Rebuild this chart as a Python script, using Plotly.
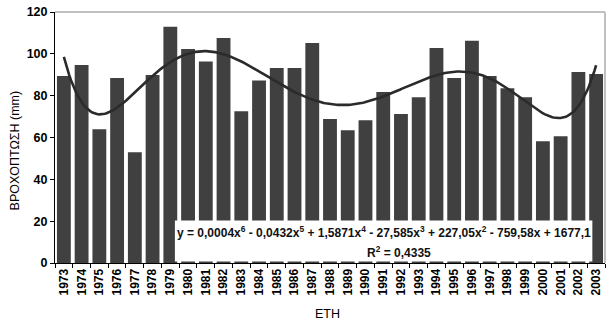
import numpy as np
import plotly.graph_objects as go

years = list(range(1973, 2004))
rain = [89.4, 94.7, 64.0, 88.4, 53.0, 89.9, 112.9, 102.3, 96.3, 107.6,
        72.6, 87.2, 93.2, 93.2, 105.2, 68.8, 63.5, 68.3, 81.7, 71.2,
        79.3, 102.8, 88.4, 106.2, 89.4, 83.6, 79.3, 58.2, 60.6, 91.3, 90.4]
y_ticks = [0, 20, 40, 60, 80, 100, 120]
eq_text = ("y = 0,0004x<sup>6</sup> - 0,0432x<sup>5</sup> + 1,5871x<sup>4</sup> - 27,585x<sup>3</sup>"
           " + 227,05x<sup>2</sup> - 759,58x + 1677,1")
r2_text = "R<sup>2</sup> = 0,4335"

# 6th order polynomial trendline (fitted on index 1..n)
idx = np.arange(1, len(years) + 1)
coef = np.polyfit(idx, rain, 6)
fine_idx = np.linspace(1, len(years), 300)
fine_years = fine_idx + years[0] - 1
trend = np.polyval(coef, fine_idx)

FONT = "Liberation Sans, Arial, sans-serif"

fig = go.Figure()
fig.add_trace(go.Bar(x=years, y=rain, marker=dict(color="#404040", line=dict(width=0)),
                     width=0.78, hoverinfo="x+y"))
fig.add_trace(go.Scatter(x=fine_years, y=trend, mode="lines",
                         line=dict(color="#2b2b2b", width=2.6)))

boundaries = [y - 0.5 for y in years] + [years[-1] + 0.5]

fig.update_layout(
    width=611, height=323,
    margin=dict(l=55, r=6, t=12, b=60),
    plot_bgcolor="white", paper_bgcolor="white",
    showlegend=False,
    font=dict(family=FONT, color="black"),
    xaxis=dict(range=[years[0] - 0.5, years[-1] + 0.5],
               tickvals=years, ticktext=[str(y) for y in years],
               tickangle=-90, ticks="", showgrid=False, zeroline=False,
               showline=True, linecolor="black", linewidth=1,
               tickfont=dict(size=12, family=FONT, weight="bold"),
               minor=dict(tickvals=boundaries, ticks="outside", ticklen=4,
                          tickcolor="black", showgrid=False)),
    yaxis=dict(range=[0, 120], tickvals=y_ticks,
               ticktext=[str(v) for v in y_ticks],
               ticks="outside", ticklen=4, tickcolor="black",
               showgrid=False, zeroline=False,
               showline=True, linecolor="black", linewidth=1,
               tickfont=dict(size=12.5, family=FONT, weight="bold")),
)

# gray plot border top/right
fig.add_shape(type="line", xref="paper", yref="paper", x0=0, x1=1, y0=1, y1=1,
              line=dict(color="#c0c0c0", width=2))
fig.add_shape(type="line", xref="paper", yref="paper", x0=1, x1=1, y0=0, y1=1,
              line=dict(color="#c0c0c0", width=2))

# equation box
fig.add_shape(type="rect", xref="paper", yref="y", x0=0.218, x1=0.977, y0=0.7, y1=20.3,
              fillcolor="white", line=dict(width=0), layer="above")
fig.add_annotation(xref="paper", yref="y", x=0.2185, y=15.0, xanchor="left", yanchor="middle",
                   text=eq_text, showarrow=False,
                   font=dict(size=12, family=FONT, color="#111", weight="bold"))
fig.add_annotation(xref="paper", yref="y", x=0.626, y=5.5, xanchor="center", yanchor="middle",
                   text=r2_text, showarrow=False,
                   font=dict(size=12, family=FONT, color="#111", weight="bold"))

# axis titles
fig.add_annotation(xref="paper", yref="paper", x=-0.072, y=0.45, xanchor="center", yanchor="middle",
                   text="ΒΡΟΧΟΠΤΩΣΗ (mm)", textangle=-90, showarrow=False,
                   font=dict(size=12.5, family=FONT, color="black"))
fig.add_annotation(xref="paper", yref="paper", x=0.496, y=-0.205, xanchor="center", yanchor="middle",
                   text="ΕΤΗ", showarrow=False,
                   font=dict(size=12.5, family=FONT, color="black"))

fig.write_html("out.html")
